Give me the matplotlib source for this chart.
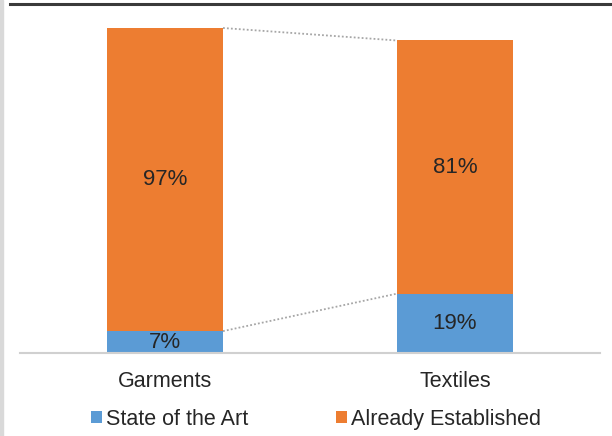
import matplotlib
matplotlib.use("Agg")
import matplotlib.pyplot as plt
from matplotlib.lines import Line2D
from matplotlib.patches import Rectangle
import numpy as np

plt.rcParams['font.family'] = ['Liberation Sans', 'DejaVu Sans']

categories = ['Garments', 'Textiles']
state_of_art = [7, 19]
established = [97, 81]
series_names = ['State of the Art', 'Already Established']

blue = '#5B9BD5'
orange = '#ED7D31'
txt = '#262626'

W, H = 612, 436
fig = plt.figure(figsize=(W / 100, H / 100), dpi=100)

# axes placed in pixel terms: baseline at y=353, plot top at y=4
ax = fig.add_axes([20 / W, (H - 353) / H, 580 / W, 349 / H])
x = np.arange(len(categories))
width = 0.4
b1 = ax.bar(x, state_of_art, width, color=blue, label=series_names[0], zorder=2)
b2 = ax.bar(x, established, width, bottom=state_of_art, color=orange,
            label=series_names[1], zorder=2)
ax.set_xlim(-0.5, 1.5)
ax.set_ylim(0, 349 / 3.125)

# series lines between the bars
tops = np.array(state_of_art) + np.array(established)
ax.plot([x[0] + width / 2, x[1] - width / 2], [tops[0], tops[1]],
        ls=(0, (1, 1.2)), color='#a6a6a6', lw=1.3, zorder=1)
ax.plot([x[0] + width / 2, x[1] - width / 2], [state_of_art[0], state_of_art[1]],
        ls=(0, (1, 1.2)), color='#a6a6a6', lw=1.3, zorder=1)

# value labels
for i in range(len(categories)):
    ax.text(x[i], state_of_art[i] / 2, f'{state_of_art[i]}%', ha='center',
            va='center', fontsize=16, color=txt, zorder=3)
    ax.text(x[i], state_of_art[i] + established[i] / 2, f'{established[i]}%',
            ha='center', va='center', fontsize=16, color=txt, zorder=3)

for s in ['top', 'left', 'right']:
    ax.spines[s].set_visible(False)
ax.spines['bottom'].set_color('#d0d0d0')
ax.spines['bottom'].set_linewidth(1.5)
ax.set_yticks([])
ax.set_xticks(x)
ax.set_xticklabels(categories, fontsize=15.5, color=txt)
ax.tick_params(axis='x', length=0, pad=13)

fig.legend(handles=[b1, b2], labels=series_names, loc='center',
           bbox_to_anchor=(316 / W, (H - 419) / H), ncol=2, frameon=False,
           fontsize=15.5, handlelength=0.52, handleheight=0.52,
           handletextpad=0.18, columnspacing=4.1, labelcolor=txt)

# frame decorations: top rule and left edge strip
fig.add_artist(Line2D([10 / W, 1], [1 - 4 / H, 1 - 4 / H], color='#3a3a3a', lw=2.2))
fig.add_artist(Rectangle((0, 0), 3 / W, 1, color='#d9d9d9', transform=fig.transFigure))

fig.savefig('out.png', dpi=100)
